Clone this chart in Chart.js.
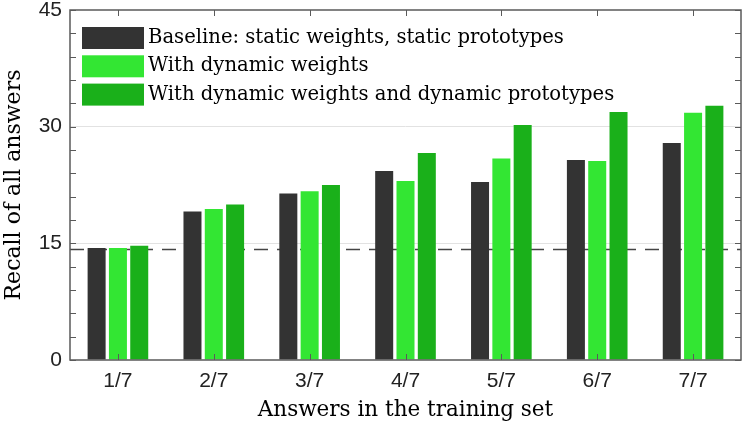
<!DOCTYPE html>
<html>
<head>
<meta charset="utf-8">
<script src="https://cdn.jsdelivr.net/npm/chart.js@4"></script>
<style>
  html, body { margin: 0; padding: 0; background: #fff; }
  #wrap { width: 747px; height: 426px; }
</style>
</head>
<body>
<div id="wrap"><canvas id="chart" width="747" height="426"></canvas></div>
<script>
const labels = ['1/7', '2/7', '3/7', '4/7', '5/7', '6/7', '7/7'];
const baseline = [14.4, 19.1, 21.4, 24.3, 22.9, 25.7, 27.9];
const dynWeights = [14.4, 19.4, 21.7, 23.0, 25.9, 25.6, 31.8];
const dynBoth = [14.7, 20.0, 22.5, 26.6, 30.2, 31.9, 32.7];
const seriesNames = [
  'Baseline: static weights, static prototypes',
  'With dynamic weights',
  'With dynamic weights and dynamic prototypes'
];
const chanceLevel = 14.3;
const yTicks = [0, 15, 30, 45];

const serif = "'DejaVu Serif', 'Liberation Serif', serif";
const sans = "'Liberation Sans', Arial, sans-serif";
const frameColor = '#5a5a5a';

// axes box, inward ticks, dashed chance line and the legend
const decorations = {
  id: 'decorations',
  beforeDatasetsDraw(chart) {
    const { ctx, chartArea: a, scales: { y } } = chart;
    const yy = Math.round(y.getPixelForValue(chanceLevel)) + 0.5;
    ctx.save();
    ctx.strokeStyle = '#444';
    ctx.lineWidth = 1.3;
    ctx.setLineDash([14, 9]);
    ctx.beginPath();
    ctx.moveTo(a.left, yy);
    ctx.lineTo(a.right, yy);
    ctx.stroke();
    ctx.restore();
  },
  afterDraw(chart) {
    const { ctx, chartArea: a, scales: { x, y } } = chart;
    ctx.save();
    ctx.strokeStyle = frameColor;
    ctx.lineWidth = 1.5;
    ctx.strokeRect(a.left, a.top, a.right - a.left, a.bottom - a.top);
    ctx.lineWidth = 1;
    ctx.beginPath();
    y.ticks.forEach(t => {
      const py = Math.round(y.getPixelForValue(t.value)) + 0.5;
      ctx.moveTo(a.left, py); ctx.lineTo(a.left + 6, py);
      ctx.moveTo(a.right, py); ctx.lineTo(a.right - 6, py);
    });
    labels.forEach((l, i) => {
      const px = Math.round(x.getPixelForValue(i)) + 0.5;
      ctx.moveTo(px, a.top); ctx.lineTo(px, a.top + 6);
      ctx.moveTo(px, a.bottom); ctx.lineTo(px, a.bottom - 6);
    });
    ctx.stroke();

    // legend inside the plot
    ctx.font = '19.6px ' + serif;
    ctx.textBaseline = 'middle';
    chart.data.datasets.forEach((ds, i) => {
      const bx = a.left + 12, by = a.top + 17 + i * 28.3;
      ctx.fillStyle = ds.backgroundColor;
      ctx.fillRect(bx, by, 62, 22);
      ctx.fillStyle = '#000';
      ctx.fillText(ds.label, bx + 66, by + 11);
    });
    ctx.restore();
  }
};

new Chart(document.getElementById('chart'), {
  type: 'bar',
  data: {
    labels: labels,
    datasets: [
      { label: seriesNames[0], data: baseline, backgroundColor: '#333333' },
      { label: seriesNames[1], data: dynWeights, backgroundColor: '#33e633' },
      { label: seriesNames[2], data: dynBoth, backgroundColor: '#1ab01a' }
    ]
  },
  options: {
    responsive: false,
    animation: false,
    datasets: { bar: { categoryPercentage: 0.667, barPercentage: 0.845 } },
    layout: { padding: { top: 10, right: 6, left: 0, bottom: 0 } },
    plugins: { legend: { display: false }, tooltip: { enabled: false } },
    scales: {
      x: {
        grid: { display: false, drawTicks: false },
        border: { display: false },
        ticks: { color: '#222', padding: 9, font: { family: sans, size: 21 } },
        title: {
          display: true, text: 'Answers in the training set', color: '#000',
          font: { family: serif, size: 21.5 }, padding: { top: 0, bottom: 3 }
        },
        afterFit: s => { s.height = 66; s.paddingLeft = 0; s.paddingRight = 0; }
      },
      y: {
        min: 0, max: 45,
        ticks: {
          stepSize: 3, autoSkip: false, color: '#222', padding: 8,
          font: { family: sans, size: 21 },
          callback: v => yTicks.includes(v) ? v : ''
        },
        grid: {
          drawTicks: false,
          color: c => (c.tick.value === 15 || c.tick.value === 30) ? '#e2e2e2' : 'rgba(0,0,0,0)'
        },
        border: { display: false },
        title: {
          display: true, text: 'Recall of all answers', color: '#000',
          font: { family: serif, size: 22 }, padding: { top: 1, bottom: 0 }
        },
        afterFit: s => { s.width = 70; s.paddingTop = 0; s.paddingBottom = 0; }
      }
    }
  },
  plugins: [decorations]
});
</script>
</body>
</html>
